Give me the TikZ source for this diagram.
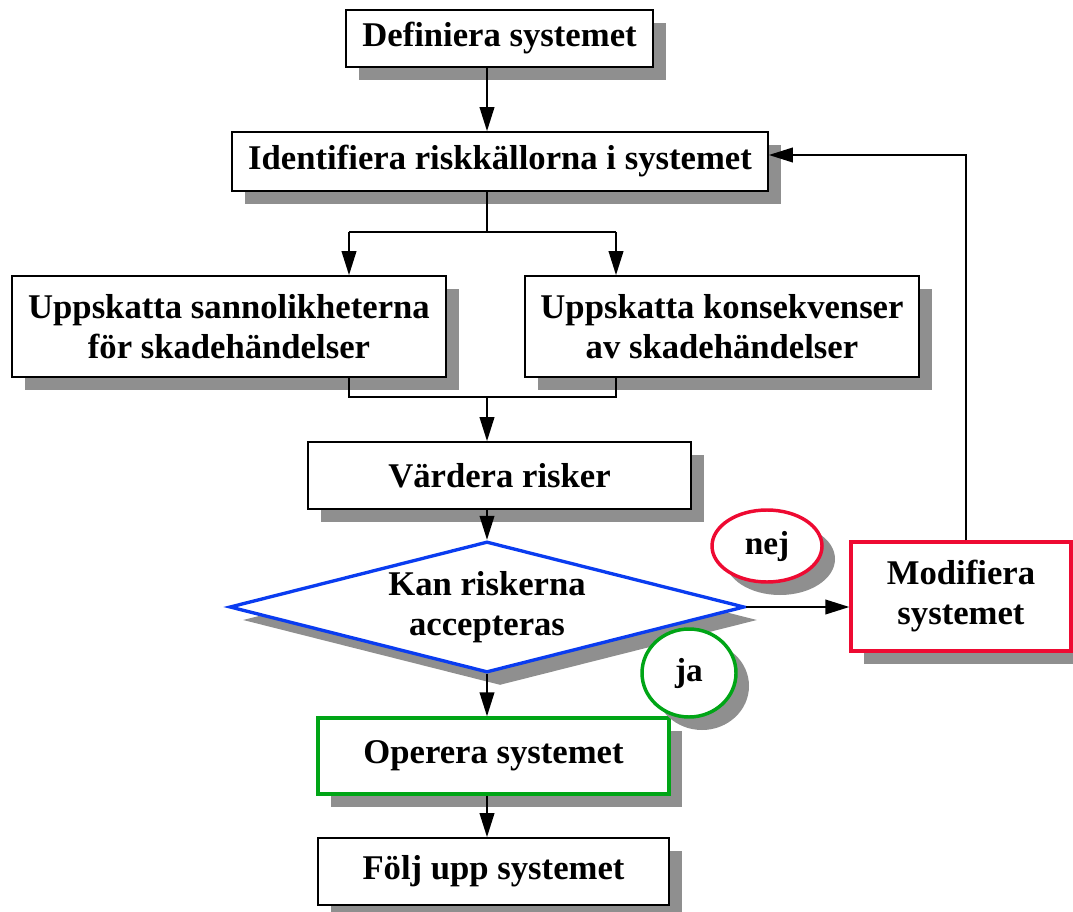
\documentclass[tikz,border=0pt]{standalone}
\usepackage{fontspec}
\setmainfont{Liberation Serif}
\usepackage{tikz}
\usetikzlibrary{arrows.meta,positioning,calc,shapes.geometric,shadows}
\definecolor{ink}{HTML}{000000}
\definecolor{shadowgray}{HTML}{8F8F8F}
\definecolor{riskblue}{HTML}{0A3CF0}
\definecolor{riskred}{HTML}{EE0A32}
\definecolor{riskgreen}{HTML}{00A516}

\tikzset{
  boxshadow/.style={drop shadow={shadow xshift=9.75pt,shadow yshift=-9.75pt,
      fill=shadowgray,opacity=1}},
  stepbox/.style={draw=ink,line width=1.3pt,fill=white,boxshadow,align=center,
      inner sep=0pt},
  askbox/.style={diamond,draw=riskblue,line width=2.5pt,fill=white,boxshadow,
      align=center,inner sep=0pt,shape aspect=3.93},
  answer/.style={ellipse,line width=2.6pt,fill=white,boxshadow,inner sep=0pt,
      font=\bfseries\fontsize{25pt}{27pt}\selectfont},
  link/.style={draw=ink,line width=1.3pt},
  flow/.style={link,-{Triangle[length=18pt,width=11pt]}}
}

\begin{document}
\begin{tikzpicture}[x=0.75pt,y=-0.75pt,font=\bfseries\fontsize{26pt}{30pt}\selectfont]
  \useasboundingbox (0,0) rectangle (1073,912);

  \node[stepbox,minimum width=230.25pt,minimum height=42.75pt] (def)
    at (499.5,38.5) {Definiera systemet};
  \node[stepbox,minimum width=402pt,minimum height=44.25pt] (ident)
    at (500,161.5) {Identifiera riskkällorna i systemet};
  \node[stepbox,minimum width=325.5pt,minimum height=75.75pt] (prob)
    at (229,326.5) {Uppskatta sannolikheterna\\för skadehändelser};
  \node[stepbox,minimum width=295.5pt,minimum height=75.75pt] (cons)
    at (722,326.5) {Uppskatta konsekvenser\\av skadehändelser};
  \node[stepbox,minimum width=287.25pt,minimum height=50.25pt] (eval)
    at (499.5,475.5) {Värdera risker};
  \node[askbox,minimum width=386.25pt,minimum height=98.25pt] (dec)
    at (487,607) {Kan riskerna\\accepteras};
  \node[stepbox,draw=riskred,line width=2.5pt,minimum width=165pt,
    minimum height=81.75pt] (mod) at (961,596.5) {Modifiera\\systemet};
  \node[stepbox,draw=riskgreen,line width=2.5pt,minimum width=263.25pt,
    minimum height=57pt] (op) at (493.5,756) {Operera systemet};
  \node[stepbox,minimum width=263.25pt,minimum height=50.25pt] (follow)
    at (493.5,871.5) {Följ upp systemet};

  \node[answer,draw=riskred,minimum width=82.5pt,minimum height=54pt] (nej)
    at (767,546) {nej};
  \node[answer,draw=riskgreen,minimum width=70.5pt,minimum height=66pt] (ja)
    at (689,673) {ja};

  \coordinate (spine) at (487,0);
  \coordinate (split) at (487,232);
  \coordinate (join) at (487,397);
  \coordinate (probtap) at (349,0);
  \coordinate (constap) at (616,0);
  \coordinate (back) at (966,155);

  \draw[flow] (def.south -| spine) -- (ident.north -| spine);
  \draw[link] (ident.south -| spine) -- (split);
  \draw[link] (split -| probtap) -- (split -| constap);
  \draw[flow] (split -| probtap) -- (prob.north -| probtap);
  \draw[flow] (split -| constap) -- (cons.north -| constap);
  \draw[link] (prob.south -| probtap) -- (join -| probtap) -- (join -| constap)
    -- (cons.south -| constap);
  \draw[flow] (join) -- (eval.north -| spine);
  \draw[flow] (eval.south -| dec.north) -- (dec.north);
  \draw[flow] (dec.east) -- (mod.west |- dec.east);
  \draw[flow] (dec.south) -- (op.north -| dec.south);
  \draw[flow] (op.south -| spine) -- (follow.north -| spine);
  \draw[flow] (mod.north -| back) -- (back) -- (back -| ident.east);
\end{tikzpicture}
\end{document}
